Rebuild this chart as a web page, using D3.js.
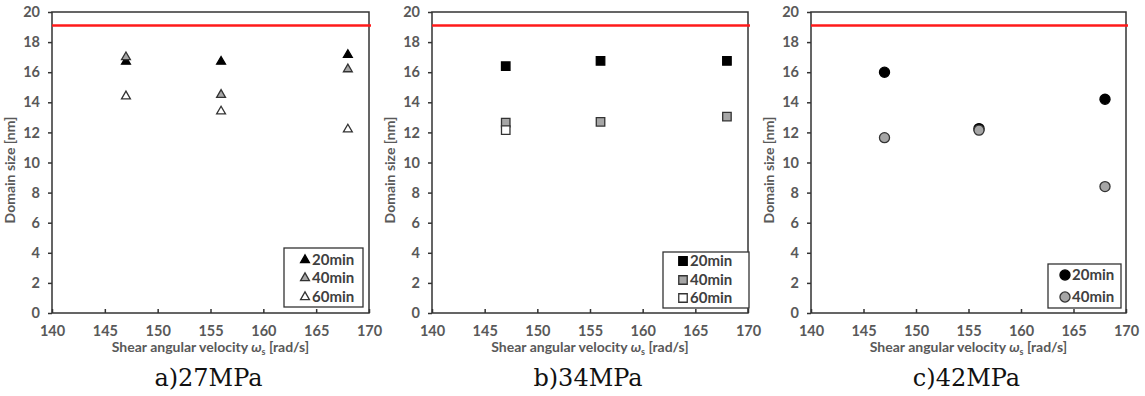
<!DOCTYPE html>
<html>
<head>
<meta charset="utf-8">
<script src="https://cdn.jsdelivr.net/npm/d3@7"></script>
<style>
  body { margin: 0; background: #fff; }
  svg { display: block; }
</style>
</head>
<body>
<script>
// shear angular velocity (rad/s) used in every panel
const velocity = [147, 156, 168];

// domain size [nm], panel a) 27MPa
const a20 = [16.7, 16.7, 17.15];
const a40 = [17.0, 14.5, 16.2];
const a60 = [14.4, 13.4, 12.2];

// panel b) 34MPa
const b20 = [16.4, 16.75, 16.75];
const b40 = [12.65, 12.7, 13.05];
const b60 = [12.15];

// panel c) 42MPa
const c20 = [16.0, 12.25, 14.2];
const c40 = [11.65, 12.15, 8.4];

const limitLine = 19.1;
const xTicks = [140, 145, 150, 155, 160, 165, 170];
const yTicks = [0, 2, 4, 6, 8, 10, 12, 14, 16, 18, 20];
const captions = ['a)27MPa', 'b)34MPa', 'c)42MPa'];
const seriesNames = ['20min', '40min', '60min'];

const width = 1145;
const height = 396;
const plotTop = 12, plotBottom = 313;

var svg = d3.select('body').append('svg')
  .attr('width', width)
  .attr('height', height);

const fillColors = ['#000000', '#a6a6a6', '#ffffff'];

/**
draw a marker shape centred at 0,0
*/
function marker(g, shape, fill) {
  var sym;
  if (shape === 'triangle') sym = d3.symbol(d3.symbolTriangle, 34);
  else if (shape === 'square') sym = d3.symbol(d3.symbolSquare, 72);
  else sym = d3.symbol(d3.symbolCircle, 80);
  g.append('path')
    .attr('d', sym())
    .attr('fill', fill)
    .attr('stroke', fill === '#000000' ? '#000' : '#333')
    .attr('stroke-width', 1.3);
}

// one panel
function drawPanel(left, right, series, shape, legendBox, legendRows, caption) {
  var x = d3.scaleLinear().domain([140, 170]).range([left, right]);
  var y = d3.scaleLinear().domain([0, 20]).range([plotBottom, plotTop]);
  var g = svg.append('g');

  // frame
  g.append('rect')
    .attr('x', left).attr('y', plotTop)
    .attr('width', right - left).attr('height', plotBottom - plotTop)
    .attr('fill', 'none').attr('stroke', '#333').attr('stroke-width', 1.5);

  // y axis
  var yAxis = g.append('g')
    .attr('transform', 'translate(' + left + ',0)')
    .call(d3.axisLeft(y).tickValues(yTicks).tickSize(4).tickPadding(8));
  // x axis (ticks pointing inside)
  var xAxis = g.append('g')
    .attr('transform', 'translate(0,' + plotBottom + ')')
    .call(d3.axisBottom(x).tickValues(xTicks).tickSize(-4).tickPadding(13));
  [xAxis, yAxis].forEach(function(ax) {
    ax.select('.domain').remove();
    ax.selectAll('line').attr('stroke', '#333').attr('stroke-width', 1.5);
    ax.selectAll('text')
      .style('font-family', 'Lato, sans-serif')
      .style('font-weight', 'bold')
      .style('font-size', '14.5px')
      .attr('fill', '#595959');
  });

  // red limit line
  g.append('line')
    .attr('x1', left).attr('x2', right + 2)
    .attr('y1', y(limitLine)).attr('y2', y(limitLine))
    .attr('stroke', '#ff1a1a').attr('stroke-width', 2.5);

  // points
  series.forEach(function(vals, i) {
    vals.forEach(function(v, j) {
      var m = g.append('g')
        .attr('transform', 'translate(' + x(velocity[j]) + ',' + y(v) + ')');
      marker(m, shape, fillColors[i]);
    });
  });

  // legend
  g.append('rect')
    .attr('x', legendBox[0]).attr('y', legendBox[1])
    .attr('width', legendBox[2]).attr('height', legendBox[3])
    .attr('fill', '#fff').attr('stroke', '#333').attr('stroke-width', 1.3);
  series.forEach(function(vals, i) {
    var m = g.append('g')
      .attr('transform', 'translate(' + legendRows.mx + ',' + legendRows.ys[i] + ')');
    marker(m, shape, fillColors[i]);
    g.append('text')
      .attr('x', legendRows.mx + 7).attr('y', legendRows.ys[i] + 5)
      .style('font-family', 'Lato, sans-serif')
      .style('font-weight', 'bold')
      .style('font-size', '15px')
      .attr('fill', '#404040')
      .text(seriesNames[i]);
  });

  // axis titles
  var cx = (left + right) / 2;
  g.append('text')
    .attr('x', cx).attr('y', 352)
    .style('text-anchor', 'middle')
    .style('font-family', 'Lato, sans-serif')
    .style('font-weight', 'bold')
    .style('font-size', '14px')
    .attr('fill', '#595959')
    .html('Shear angular velocity <tspan font-style="italic">ω</tspan><tspan font-size="9px" dy="3">s</tspan><tspan dy="-3"> [rad/s]</tspan>');

  g.append('text')
    .attr('transform', 'translate(' + (left - 37) + ',' + 170 + ') rotate(-90)')
    .style('text-anchor', 'middle')
    .style('font-family', 'Lato, sans-serif')
    .style('font-weight', 'bold')
    .style('font-size', '14px')
    .attr('fill', '#595959')
    .text('Domain size [nm]');

  g.append('text')
    .attr('x', cx - 2).attr('y', 386)
    .style('text-anchor', 'middle')
    .style('font-family', '"DejaVu Serif", serif')
    .style('font-size', '24px')
    .attr('fill', '#111')
    .text(caption);
}

drawPanel(52, 369, [a20, a40, a60], 'triangle', [284, 248, 79, 59], {mx: 305, ys: [260, 278, 297]}, captions[0]);
drawPanel(432, 748, [b20, b40, b60], 'square', [663, 252, 86, 56], {mx: 683, ys: [261, 280, 298]}, captions[1]);
drawPanel(811, 1126, [c20, c40], 'circle', [1048, 264, 73, 44], {mx: 1065, ys: [275, 297]}, captions[2]);
</script>
</body>
</html>
